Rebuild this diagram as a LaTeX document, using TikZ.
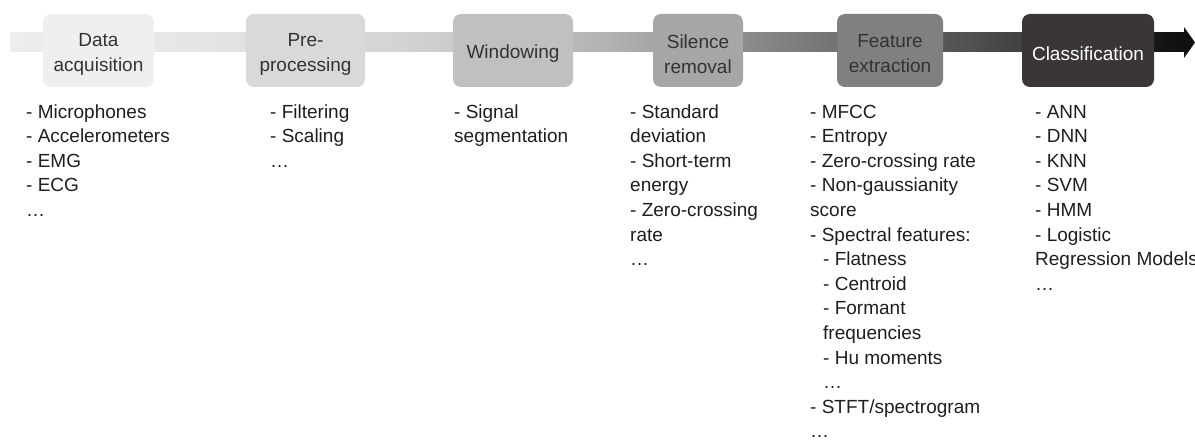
\documentclass[tikz,border=0pt]{standalone}
\usepackage{fontspec}
\setmainfont{Liberation Sans}
\definecolor{ink}{HTML}{1E1E1E}
\definecolor{boxink}{HTML}{333333}
\definecolor{stageA}{HTML}{EFEFEF}
\definecolor{stageB}{HTML}{D9D9D9}
\definecolor{stageC}{HTML}{C0C0C0}
\definecolor{stageD}{HTML}{A6A6A6}
\definecolor{stageE}{HTML}{808080}
\definecolor{stageF}{HTML}{3A3637}
\definecolor{headfill}{HTML}{101010}
% light-to-dark ramp for the pipeline bar (path spans 25bp..75bp)
\pgfdeclarehorizontalshading{barshade}{100bp}{%
  rgb(0bp)=(.93,.93,.93); rgb(25bp)=(.93,.93,.93);
  rgb(33.05bp)=(.90,.90,.90); rgb(41.53bp)=(.83,.83,.83);
  rgb(50.55bp)=(.70,.70,.70); rgb(58.05bp)=(.50,.50,.50);
  rgb(66.10bp)=(.31,.31,.31); rgb(74.15bp)=(.08,.08,.08);
  rgb(75bp)=(.06,.06,.06); rgb(100bp)=(.06,.06,.06)}
\newcommand{\ind}{\hspace*{13pt}}
\begin{document}
\begin{tikzpicture}[x=1pt,y=-1pt,
  stagebox/.style={rounded corners=8pt, inner sep=0pt, minimum height=73pt},
  stagetext/.style={inner sep=0pt, align=center, text=boxink,
    font=\fontsize{19}{25}\selectfont},
  item/.style={anchor=base west, inner sep=0pt, text=ink,
    font=\fontsize{19}{24.6}\selectfont}]
\useasboundingbox (0,0) rectangle (1195,444);

% pipeline bar with arrow head
\coordinate (barstart) at (10,42.5);
\coordinate (barend) at (1184,42.5);
\coordinate (tip) at (1195,42.5);
\shade[shading=barshade] ([yshift=-9.5pt]barstart) rectangle ([yshift=9.5pt]barend);
\fill[headfill] ([yshift=15.5pt]barend) -- (tip) -- ([yshift=-15.5pt]barend) -- cycle;

% stages
\node[stagebox, fill=stageA, minimum width=111pt] (s1) at (98.5,50.5) {};
\node[stagebox, fill=stageB, minimum width=119pt] (s2) at (305.5,50.5) {};
\node[stagebox, fill=stageC, minimum width=120pt] (s3) at (513,50.5) {};
\node[stagebox, fill=stageD, minimum width=90pt] (s4) at (698,50.5) {};
\node[stagebox, fill=stageE, minimum width=106pt] (s5) at (890,50.5) {};
\node[stagebox, fill=stageF, minimum width=132pt] (s6) at (1088,50.5) {};
\node[stagetext] (s1t) at ([yshift=-3.5pt]s1.center) {Data\\acquisition};
\node[stagetext] (s2t) at ([yshift=-3.5pt]s2.center) {Pre-\\processing};
\node[stagetext] (s3t) at ([yshift=-3pt]s3.center) {Windowing};
\node[stagetext] (s4t) at ([yshift=-3.5pt]s4.center) {Silence\\removal};
\node[stagetext] (s5t) at ([yshift=-3.5pt]s5.center) {Feature\\extraction};
\node[stagetext, text=white] (s6t) at ([yshift=-3pt]s6.center) {Classification};

% method lists under each stage
\foreach \t [count=\i from 0] in {- Microphones, - Accelerometers, - EMG, - ECG, …}
  \node[item] (la\i) at (26,118+24.6*\i) {\t};
\foreach \t [count=\i from 0] in {- Filtering, - Scaling, …}
  \node[item] (lb\i) at (270,118+24.6*\i) {\t};
\foreach \t [count=\i from 0] in {- Signal, segmentation}
  \node[item] (lc\i) at (454,118+24.6*\i) {\t};
\foreach \t [count=\i from 0] in {- Standard, deviation, - Short-term, energy, - Zero-crossing, rate, …}
  \node[item] (ld\i) at (630,118+24.6*\i) {\t};
\foreach \t [count=\i from 0] in {- MFCC, - Entropy, - Zero-crossing rate, - Non-gaussianity, score,
    - Spectral features:, \ind- Flatness, \ind- Centroid, \ind- Formant, \ind frequencies,
    \ind- Hu moments, \ind…, - STFT/spectrogram, …}
  \node[item] (le\i) at (810,118+24.6*\i) {\t};
\foreach \t [count=\i from 0] in {- ANN, - DNN, - KNN, - SVM, - HMM, - Logistic, Regression Models, …}
  \node[item] (lf\i) at (1035,118+24.6*\i) {\t};
\end{tikzpicture}
\end{document}
